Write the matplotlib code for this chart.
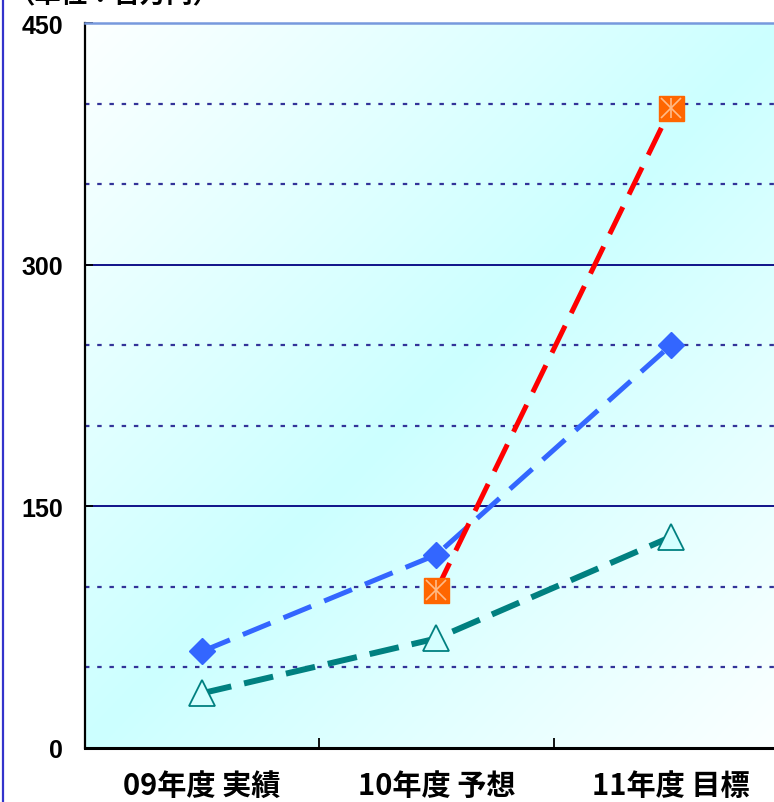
import numpy as np
import matplotlib
matplotlib.use("Agg")
import matplotlib.pyplot as plt
from matplotlib.lines import Line2D

plt.rcParams['font.family'] = ['Noto Sans CJK JP', 'DejaVu Sans']

# データ
categories = ['09年度 実績', '10年度 予想', '11年度 目標']
series_blue = [60, 120, 250]       # 青ひし形
series_teal = [34, 68, 131]        # 緑三角
series_red = [None, 98, 397]       # 赤四角 (10年度から)
yticks = [0, 150, 300, 450]
unit_label = '（単位：百万円）'

W, H = 774, 803
fig = plt.figure(figsize=(W / 100, H / 100), dpi=100)
ax = fig.add_axes([85 / W, 54 / H, 703 / W, 725 / H])

# 背景グラデーション（左上・右下が白、対角線が水色）
nx_, ny_ = 400, 400
gx, gy = np.meshgrid(np.linspace(0, 1, nx_), np.linspace(0, 1, ny_))
s = gx + gy  # gy=0 が上
w = np.clip(np.abs(s - 1.0) * 0.95, 0, 1)[..., None]
cyan = np.array([0.80, 1.0, 1.0])
white = np.array([1.0, 1.0, 1.0])
img = cyan * (1 - w) + white * w
ax.imshow(img, extent=[0, 1, 0, 1], transform=ax.transAxes,
          aspect='auto', zorder=0, origin='upper')

x = np.arange(len(categories))

# 目盛線
for v in [50, 100, 200, 250, 350, 400]:
    ax.axhline(v, color='#333399', lw=1.6, ls=(0, (2, 3.5)), zorder=1)
for v in [150, 300]:
    ax.axhline(v, color='#000080', lw=1.3, zorder=1)

# 系列
ax.plot(x, series_teal, color='#008080', lw=4.3, dashes=(5, 2.2),
        marker='^', markersize=19, markerfacecolor='#d4ffff',
        markeredgecolor='#008080', markeredgewidth=1.3, zorder=3)
ax.plot(x, series_blue, color='#3366ff', lw=3.6, dashes=(6, 2.8),
        marker='D', markersize=13.5, markerfacecolor='#3366ff',
        markeredgecolor='#3366ff', zorder=4)
xr = [xi for xi, v in zip(x, series_red) if v is not None]
yr = [v for v in series_red if v is not None]
ax.plot(xr, yr, color='#ff0000', lw=3.6, dashes=(6, 2.8), zorder=5)
ax.plot(xr, yr, ls='none', marker='s', markersize=18,
        markerfacecolor='#ff6600', markeredgecolor='#ff6600', zorder=6)
for m in ['|', 'x']:
    ax.plot(xr, yr, ls='none', marker=m, markersize=15,
            markeredgecolor='#ffbb88', markeredgewidth=1.2, zorder=7)

ax.set_xlim(-0.5, 2.5)
ax.set_ylim(0, 450)
ax.set_yticks(yticks)
ax.set_yticklabels([str(t) for t in yticks], family='Liberation Sans',
                   fontweight='bold', fontsize=18)
ax.set_xticks([0.5, 1.5])
ax.set_xticklabels([])
ax.tick_params(axis='x', direction='in', length=7, width=1.3, color='black')
ax.tick_params(axis='y', direction='in', length=6, width=1.3, color='black',
               pad=16)
for xi, lab in zip(x, categories):
    ax.text(xi, -0.051, lab, transform=ax.get_xaxis_transform(),
            ha='center', va='center', fontsize=21, fontweight='bold')

ax.spines['left'].set_color('black')
ax.spines['left'].set_linewidth(1.6)
ax.spines['bottom'].set_color('black')
ax.spines['bottom'].set_linewidth(2.2)
ax.spines['top'].set_color('#7799dd')
ax.spines['top'].set_linewidth(1.8)
ax.spines['right'].set_visible(False)

# 左端の枠線
fig.add_artist(Line2D([3 / W, 3 / W], [0, 1], transform=fig.transFigure,
                      color='#3333cc', lw=1.6))
fig.text(8 / W, 1 - 9 / H, unit_label, ha='left', va='bottom',
         fontsize=19, fontweight='bold')

fig.savefig('out.png', dpi=100)
